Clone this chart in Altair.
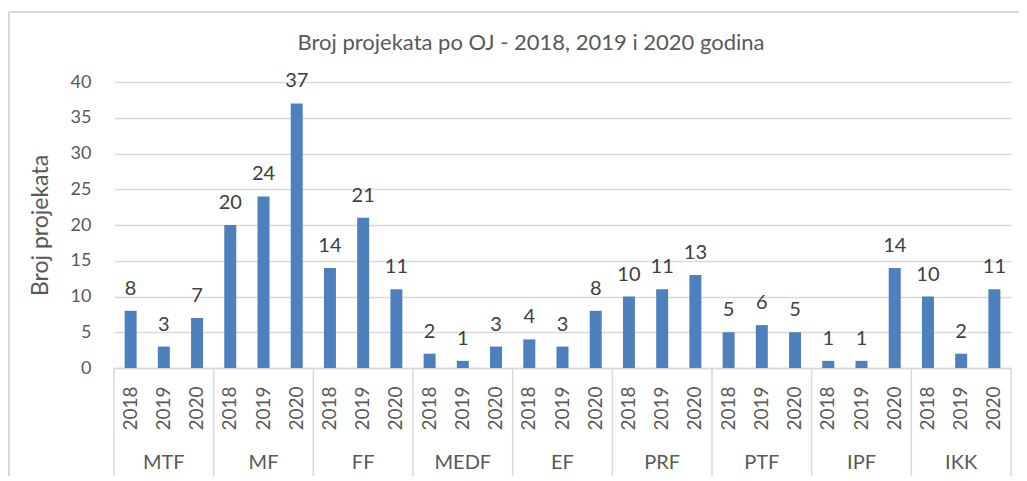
import altair as alt
import pandas as pd

groups = ["MTF", "MF", "FF", "MEDF", "EF", "PRF", "PTF", "IPF", "IKK"]
years = ["2018", "2019", "2020"]
values = {
    "MTF": [8, 3, 7],
    "MF": [20, 24, 37],
    "FF": [14, 21, 11],
    "MEDF": [2, 1, 3],
    "EF": [4, 3, 8],
    "PRF": [10, 11, 13],
    "PTF": [5, 6, 5],
    "IPF": [1, 1, 14],
    "IKK": [10, 2, 11],
}
y_ticks = [0, 5, 10, 15, 20, 25, 30, 35, 40]
title_text = "Broj projekata po OJ - 2018, 2019 i 2020 godina"
y_title = "Broj projekata"

rows = []
for g in groups:
    for y, v in zip(years, values[g]):
        rows.append({"group": g, "year": y, "key": f"{g}|{y}", "value": v})
df = pd.DataFrame(rows)
keys = list(df["key"])

W, H = 897, 286
FONT = "Lato"
GRAY = "#595959"
LINE = "#d9d9d9"

x_axis = alt.Axis(
    title=None, ticks=False, labelAngle=-90, labelFontSize=19,
    labelColor=GRAY, labelFont=FONT, labelPadding=18,
    domainColor=LINE, domainWidth=1.5, grid=False,
    labelExpr="split(datum.label, '|')[1]",
)
x_scale = alt.Scale(paddingInner=0, paddingOuter=0)
y_axis = alt.Axis(
    values=y_ticks, title=y_title, titleFontSize=23, titleFont=FONT,
    titleFontWeight="normal", titleColor=GRAY, titlePadding=18,
    labelFontSize=18, labelFont=FONT, labelColor=GRAY, labelPadding=23,
    domain=False, ticks=False, gridColor=LINE, gridWidth=1.5,
)
y_scale = alt.Scale(domain=[0, 40], nice=False)


def xk(**kw):
    return alt.X("key:N", sort=keys, scale=x_scale, axis=x_axis, **kw)


def yv():
    return alt.Y("value:Q", scale=y_scale, axis=y_axis)


base = alt.Chart(df)

bars = base.mark_bar(size=12, color="#4e80bd").encode(x=xk(), y=yv())

labels = base.mark_text(baseline="alphabetic", dy=-16, fontSize=20, font=FONT, color="#404040").encode(
    x=xk(), y=yv(), text=alt.Text("value:Q"),
)

gdf = pd.DataFrame({"group": groups, "key": [f"{g}|2019" for g in groups]})
glabels = alt.Chart(gdf).mark_text(fontSize=20, font=FONT, color=GRAY, baseline="middle").encode(
    x=xk(), y=alt.value(H + 95), text="group:N",
)

sdf = pd.DataFrame({"key": [f"{g}|2018" for g in groups]})
seps = alt.Chart(sdf).mark_rule(color=LINE, strokeWidth=1.5).encode(
    x=xk(bandPosition=0), y=alt.value(H), y2=alt.value(H + 125),
)
edf = pd.DataFrame({"key": [f"{groups[-1]}|2020"]})
sep_end = alt.Chart(edf).mark_rule(color=LINE, strokeWidth=1.5).encode(
    x=xk(bandPosition=1), y=alt.value(H), y2=alt.value(H + 125),
)

tdf = pd.DataFrame({"t": [title_text]})
title_mark = alt.Chart(tdf).mark_text(
    fontSize=22, font=FONT, color=GRAY, baseline="middle", align="center"
).encode(x=alt.value(417), y=alt.value(-39), text="t:N")

border_top = alt.Chart(edf).mark_rule(color=LINE, strokeWidth=2).encode(
    x=alt.value(-105), x2=alt.value(W + 30), y=alt.value(-70)
)
border_left = alt.Chart(edf).mark_rule(color=LINE, strokeWidth=2).encode(
    x=alt.value(-105), y=alt.value(-70), y2=alt.value(H + 140)
)

chart = alt.layer(
    border_top, border_left, seps, sep_end, bars, labels, glabels, title_mark
).properties(
    width=W,
    height=H,
    autosize=alt.AutoSizeParams(type="none"),
    padding={"left": 106, "top": 74, "right": 8, "bottom": 108},
).configure_view(stroke=None)

chart.save("out.html", embed_options={"renderer": "svg", "actions": False})
